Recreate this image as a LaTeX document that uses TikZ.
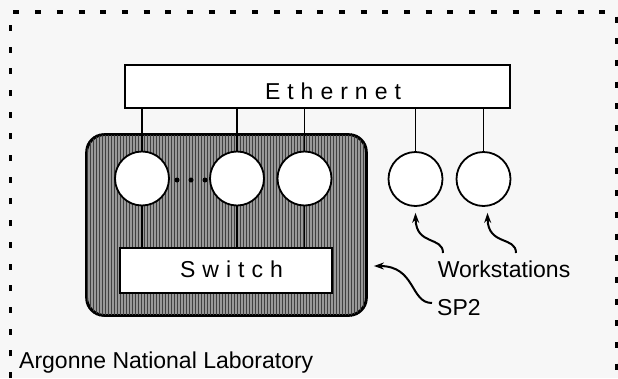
\documentclass[tikz,border=0pt]{standalone}
\usepackage{fontspec}
\setmainfont{Liberation Sans}
\usetikzlibrary{arrows.meta,patterns}
\newcommand\spc{\kern7pt}
\begin{document}
\begin{tikzpicture}[x=1pt,y=-1pt,
  txt/.style={font=\fontsize{23}{27}\selectfont, inner sep=0pt},
  boxw/.style={draw, fill=white, line width=1.8pt, inner sep=0pt},
  host/.style={circle, draw, fill=white, line width=1.8pt, minimum size=54pt, inner sep=0pt},
  wire/.style={line width=1.4pt},
  ptr/.style={line width=2pt, -{Stealth[length=10pt,width=7pt]}},
  frame/.style={line width=3.5pt, dash pattern=on 6pt off 15.7pt}]
\useasboundingbox (0,0) rectangle (618,378);
\fill[white!97!black] (0,0) rectangle (618,378);
% dashed frame
\draw[frame] (10.5,378) -- (10.5,12) -- (616.5,12) -- (616.5,378);
% SP2 box
\node[draw, line width=1.8pt, fill=black!40, rounded corners=18pt,
      minimum width=279pt, minimum height=180pt, inner sep=0pt] (sp2) at (226.5,225) {};
\fill[pattern=vertical lines, pattern color=black!75, rounded corners=17pt]
  ([shift={(1,-1)}]sp2.north west) rectangle ([shift={(-1,1)}]sp2.south east);
\draw[line width=1.8pt, rounded corners=18pt] (sp2.north west) rectangle (sp2.south east);
% Ethernet
\node[boxw, minimum width=385pt, minimum height=43pt] (eth) at (317.5,86.5) {};
\node[txt, anchor=base] (ethl) at (333,99.5) {E\spc t\spc h\spc e\spc r\spc n\spc e\spc t};
% switch
\node[boxw, minimum width=212pt, minimum height=45pt] (sw) at (226,270.5) {};
\node[txt, anchor=base] (swl) at (231.5,277) {S\spc w\spc i\spc t\spc c\spc h};
% processors and workstations
\node[host] (c1) at (142,178.5) {};
\node[host] (c2) at (237,178.5) {};
\node[host] (c3) at (304.5,178.5) {};
\node[host] (w1) at (415.5,179) {};
\node[host] (w2) at (483.5,179) {};
% dots
\foreach \x/\n in {177/d1,191/d2,205/d3}
  \node[circle, fill=black, minimum size=5pt, inner sep=0pt] (\n) at (\x,180) {};
% wires
\foreach \c in {c1,c2,c3,w1,w2}
  \draw[wire] (\c.north |- eth.south) -- (\c.north);
\foreach \c in {c1,c2,c3}
  \draw[wire] (\c.south) -- (\c.south |- sw.north);
% labels
\node[txt, anchor=base] (ws) at (504,277) {Workstations};
\node[txt, anchor=base west] (spl) at (437,315) {SP2};
\node[txt, anchor=base west] (anl) at (19,368) {Argonne National Laboratory};
% pointers
\coordinate (t1) at (443,253);
\coordinate (t2) at (516,253);
\coordinate (t3) at (432,303);
\coordinate (h1) at ([yshift=-6pt]w1.south);
\coordinate (h2) at ([xshift=4pt,yshift=-6pt]w2.south);
\coordinate (h3) at ([xshift=7pt]sp2.east |- 0,266);
\draw[ptr] (t1) .. controls (443,236) and (416,246) .. (h1);
\draw[ptr] (t2) .. controls (516,236) and (488,246) .. (h2);
\draw[ptr] (t3) .. controls (410,303) and (416,266) .. (h3);
\end{tikzpicture}
\end{document}
